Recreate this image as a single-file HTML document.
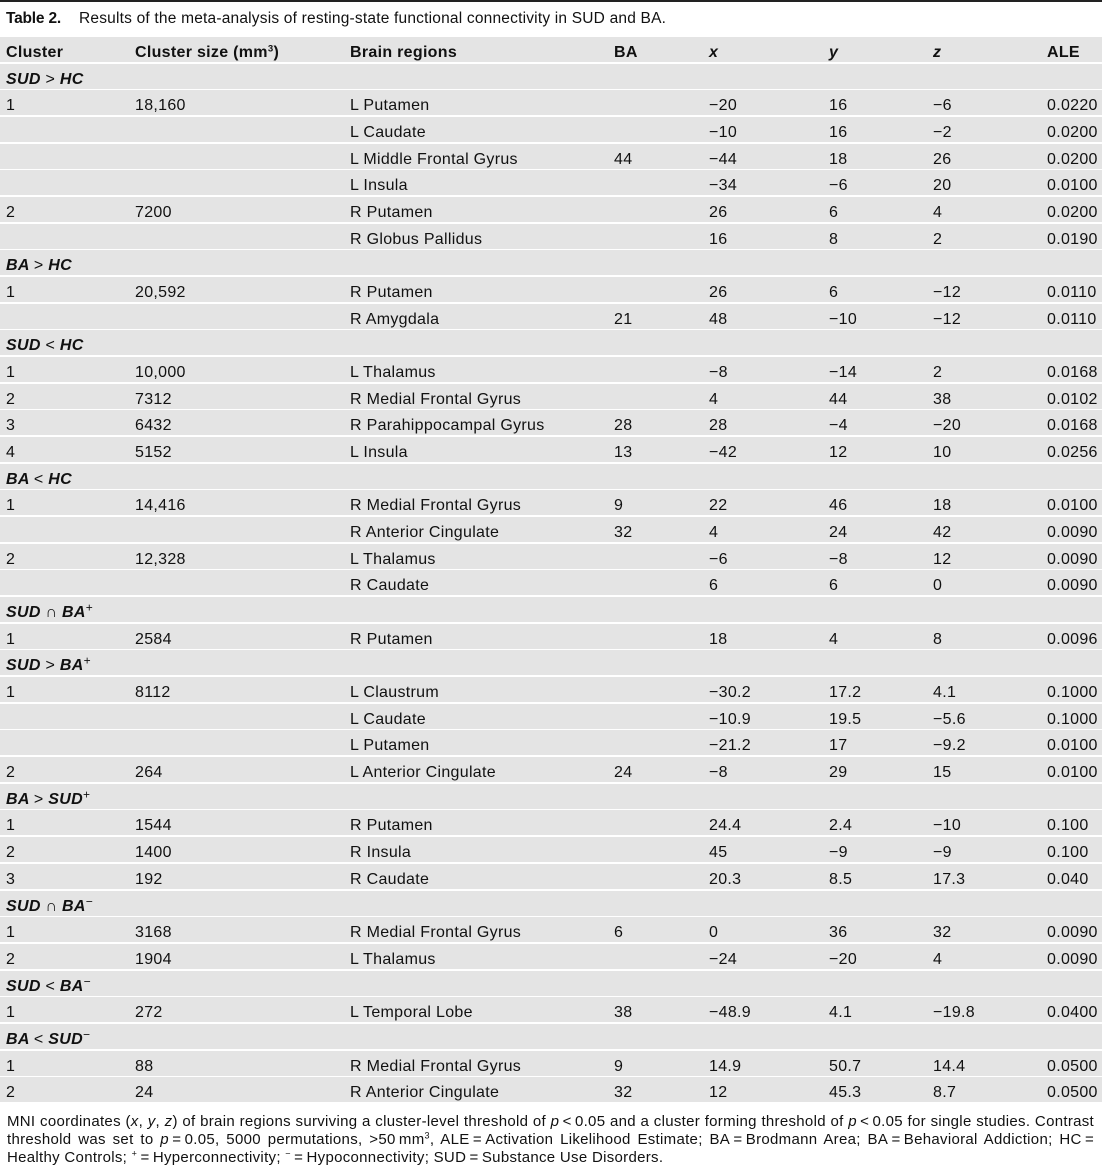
<!DOCTYPE html>
<html>
<head>
<meta charset="utf-8">
<style>
  html, body { margin:0; padding:0; background:#fff; }
  body { width:1108px; height:1172px; position:relative; overflow:hidden;
         font-family:"Liberation Sans", Arial, sans-serif; color:#111; }
  .topline { position:absolute; left:0; top:0; width:1102px; height:2px; background:#222; }
  .title { position:absolute; top:8.7px; left:6px; font-size:15.5px; line-height:20px; white-space:nowrap; letter-spacing:0.2px; }
  .title b { font-weight:bold; letter-spacing:-0.2px; }
  .title .rest { position:absolute; left:73px; top:0; }
  .tbl { position:absolute; left:0; top:37px; width:1102px; }
  .row { position:relative; height:25px; margin-bottom:1.675px; background:#e4e4e4; font-size:16px; letter-spacing:0.3px; }
  .row > span { position:absolute; top:0; line-height:32.3px; white-space:nowrap; }
  .c1 { left:6px; } .c2 { left:135px; } .c3 { left:350px; } .c4 { left:614px; }
  .c5 { left:709px; } .c6 { left:829px; } .c7 { left:933px; } .c8 { left:1047px; }
  .hd > span { font-weight:bold; }
  .g > span { font-weight:bold; font-style:italic; }
  .g .op { font-weight:normal; font-style:normal; }
  .g .cap { font-weight:normal; font-style:normal; line-height:0; }
  sup { font-size:0.6em; line-height:0; vertical-align:0.6em; }
  .g sup { font-weight:normal; font-style:normal; font-size:0.75em; vertical-align:0.45em; }
  .foot { position:absolute; left:7px; top:1113.2px; width:1087px; font-size:15px; line-height:18px; letter-spacing:0.3px; }
  .foot div { white-space:nowrap; }
  .foot .j { text-align:justify; text-align-last:justify; }
</style>
</head>
<body>
<div class="topline"></div>
<div class="title"><b>Table 2.</b><span class="rest">Results of the meta-analysis of resting-state functional connectivity in SUD and BA.</span></div>

<div class="tbl">
  <div class="row hd"><span class="c1">Cluster</span><span class="c2">Cluster size (mm<sup>3</sup>)</span><span class="c3">Brain regions</span><span class="c4">BA</span><span class="c5"><i>x</i></span><span class="c6"><i>y</i></span><span class="c7"><i>z</i></span><span class="c8">ALE</span></div>

  <div class="row g"><span class="c1">SUD <span class="op">&gt;</span> HC</span></div>
  <div class="row"><span class="c1">1</span><span class="c2">18,160</span><span class="c3">L Putamen</span><span class="c5">−20</span><span class="c6">16</span><span class="c7">−6</span><span class="c8">0.0220</span></div>
  <div class="row"><span class="c3">L Caudate</span><span class="c5">−10</span><span class="c6">16</span><span class="c7">−2</span><span class="c8">0.0200</span></div>
  <div class="row"><span class="c3">L Middle Frontal Gyrus</span><span class="c4">44</span><span class="c5">−44</span><span class="c6">18</span><span class="c7">26</span><span class="c8">0.0200</span></div>
  <div class="row"><span class="c3">L Insula</span><span class="c5">−34</span><span class="c6">−6</span><span class="c7">20</span><span class="c8">0.0100</span></div>
  <div class="row"><span class="c1">2</span><span class="c2">7200</span><span class="c3">R Putamen</span><span class="c5">26</span><span class="c6">6</span><span class="c7">4</span><span class="c8">0.0200</span></div>
  <div class="row"><span class="c3">R Globus Pallidus</span><span class="c5">16</span><span class="c6">8</span><span class="c7">2</span><span class="c8">0.0190</span></div>

  <div class="row g"><span class="c1">BA <span class="op">&gt;</span> HC</span></div>
  <div class="row"><span class="c1">1</span><span class="c2">20,592</span><span class="c3">R Putamen</span><span class="c5">26</span><span class="c6">6</span><span class="c7">−12</span><span class="c8">0.0110</span></div>
  <div class="row"><span class="c3">R Amygdala</span><span class="c4">21</span><span class="c5">48</span><span class="c6">−10</span><span class="c7">−12</span><span class="c8">0.0110</span></div>

  <div class="row g"><span class="c1">SUD <span class="op">&lt;</span> HC</span></div>
  <div class="row"><span class="c1">1</span><span class="c2">10,000</span><span class="c3">L Thalamus</span><span class="c5">−8</span><span class="c6">−14</span><span class="c7">2</span><span class="c8">0.0168</span></div>
  <div class="row"><span class="c1">2</span><span class="c2">7312</span><span class="c3">R Medial Frontal Gyrus</span><span class="c5">4</span><span class="c6">44</span><span class="c7">38</span><span class="c8">0.0102</span></div>
  <div class="row"><span class="c1">3</span><span class="c2">6432</span><span class="c3">R Parahippocampal Gyrus</span><span class="c4">28</span><span class="c5">28</span><span class="c6">−4</span><span class="c7">−20</span><span class="c8">0.0168</span></div>
  <div class="row"><span class="c1">4</span><span class="c2">5152</span><span class="c3">L Insula</span><span class="c4">13</span><span class="c5">−42</span><span class="c6">12</span><span class="c7">10</span><span class="c8">0.0256</span></div>

  <div class="row g"><span class="c1">BA <span class="op">&lt;</span> HC</span></div>
  <div class="row"><span class="c1">1</span><span class="c2">14,416</span><span class="c3">R Medial Frontal Gyrus</span><span class="c4">9</span><span class="c5">22</span><span class="c6">46</span><span class="c7">18</span><span class="c8">0.0100</span></div>
  <div class="row"><span class="c3">R Anterior Cingulate</span><span class="c4">32</span><span class="c5">4</span><span class="c6">24</span><span class="c7">42</span><span class="c8">0.0090</span></div>
  <div class="row"><span class="c1">2</span><span class="c2">12,328</span><span class="c3">L Thalamus</span><span class="c5">−6</span><span class="c6">−8</span><span class="c7">12</span><span class="c8">0.0090</span></div>
  <div class="row"><span class="c3">R Caudate</span><span class="c5">6</span><span class="c6">6</span><span class="c7">0</span><span class="c8">0.0090</span></div>

  <div class="row g"><span class="c1">SUD <span class="cap">∩</span> BA<sup>+</sup></span></div>
  <div class="row"><span class="c1">1</span><span class="c2">2584</span><span class="c3">R Putamen</span><span class="c5">18</span><span class="c6">4</span><span class="c7">8</span><span class="c8">0.0096</span></div>

  <div class="row g"><span class="c1">SUD <span class="op">&gt;</span> BA<sup>+</sup></span></div>
  <div class="row"><span class="c1">1</span><span class="c2">8112</span><span class="c3">L Claustrum</span><span class="c5">−30.2</span><span class="c6">17.2</span><span class="c7">4.1</span><span class="c8">0.1000</span></div>
  <div class="row"><span class="c3">L Caudate</span><span class="c5">−10.9</span><span class="c6">19.5</span><span class="c7">−5.6</span><span class="c8">0.1000</span></div>
  <div class="row"><span class="c3">L Putamen</span><span class="c5">−21.2</span><span class="c6">17</span><span class="c7">−9.2</span><span class="c8">0.0100</span></div>
  <div class="row"><span class="c1">2</span><span class="c2">264</span><span class="c3">L Anterior Cingulate</span><span class="c4">24</span><span class="c5">−8</span><span class="c6">29</span><span class="c7">15</span><span class="c8">0.0100</span></div>

  <div class="row g"><span class="c1">BA <span class="op">&gt;</span> SUD<sup>+</sup></span></div>
  <div class="row"><span class="c1">1</span><span class="c2">1544</span><span class="c3">R Putamen</span><span class="c5">24.4</span><span class="c6">2.4</span><span class="c7">−10</span><span class="c8">0.100</span></div>
  <div class="row"><span class="c1">2</span><span class="c2">1400</span><span class="c3">R Insula</span><span class="c5">45</span><span class="c6">−9</span><span class="c7">−9</span><span class="c8">0.100</span></div>
  <div class="row"><span class="c1">3</span><span class="c2">192</span><span class="c3">R Caudate</span><span class="c5">20.3</span><span class="c6">8.5</span><span class="c7">17.3</span><span class="c8">0.040</span></div>

  <div class="row g"><span class="c1">SUD <span class="cap">∩</span> BA<sup>−</sup></span></div>
  <div class="row"><span class="c1">1</span><span class="c2">3168</span><span class="c3">R Medial Frontal Gyrus</span><span class="c4">6</span><span class="c5">0</span><span class="c6">36</span><span class="c7">32</span><span class="c8">0.0090</span></div>
  <div class="row"><span class="c1">2</span><span class="c2">1904</span><span class="c3">L Thalamus</span><span class="c5">−24</span><span class="c6">−20</span><span class="c7">4</span><span class="c8">0.0090</span></div>

  <div class="row g"><span class="c1">SUD <span class="op">&lt;</span> BA<sup>−</sup></span></div>
  <div class="row"><span class="c1">1</span><span class="c2">272</span><span class="c3">L Temporal Lobe</span><span class="c4">38</span><span class="c5">−48.9</span><span class="c6">4.1</span><span class="c7">−19.8</span><span class="c8">0.0400</span></div>

  <div class="row g"><span class="c1">BA <span class="op">&lt;</span> SUD<sup>−</sup></span></div>
  <div class="row"><span class="c1">1</span><span class="c2">88</span><span class="c3">R Medial Frontal Gyrus</span><span class="c4">9</span><span class="c5">14.9</span><span class="c6">50.7</span><span class="c7">14.4</span><span class="c8">0.0500</span></div>
  <div class="row"><span class="c1">2</span><span class="c2">24</span><span class="c3">R Anterior Cingulate</span><span class="c4">32</span><span class="c5">12</span><span class="c6">45.3</span><span class="c7">8.7</span><span class="c8">0.0500</span></div>
</div>

<div class="foot">
  <div class="j">MNI coordinates (<i>x</i>, <i>y</i>, <i>z</i>) of brain regions surviving a cluster-level threshold of <i>p</i>&#8201;&lt;&#8201;0.05 and a cluster forming threshold of <i>p</i>&#8201;&lt;&#8201;0.05 for single studies. Contrast</div>
  <div class="j">threshold was set to <i>p</i>&#8201;=&#8201;0.05, 5000 permutations, &gt;50&#8201;mm<sup>3</sup>, ALE&#8201;=&#8201;Activation Likelihood Estimate; BA&#8201;=&#8201;Brodmann Area; BA&#8201;=&#8201;Behavioral Addiction; HC&#8201;=</div>
  <div>Healthy Controls; <sup>+</sup>&#8201;=&#8201;Hyperconnectivity; <sup>−</sup>&#8201;=&#8201;Hypoconnectivity; SUD&#8201;=&#8201;Substance Use Disorders.</div>
</div>
</body>
</html>
